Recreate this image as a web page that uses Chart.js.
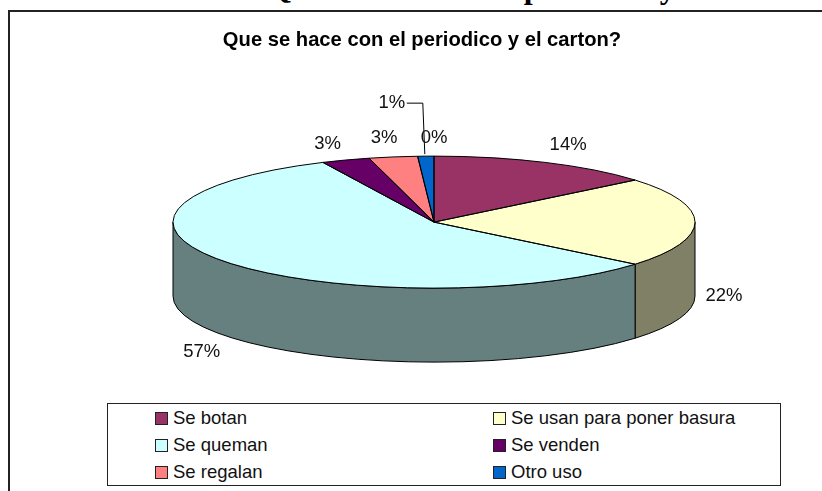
<!DOCTYPE html>
<html>
<head>
<meta charset="utf-8">
<style>
  html, body { margin: 0; padding: 0; background: #fff; width: 822px; height: 491px; overflow: hidden; }
  #page-title { position: absolute; left: 267px; top: -31px; font: bold 32px "Liberation Serif", serif; white-space: nowrap; color: #000; }
  #frame { position: absolute; left: 8px; top: 10px; width: 830px; height: 500px; border: 2px solid #222; }
  #chart-canvas { position: absolute; left: 0; top: 0; }
  #legend-box { position: absolute; left: 107px; top: 403px; width: 672px; height: 81px; border: 1px solid #222; background: #fff; }
  .legend-item { position: absolute; height: 18px; display: flex; align-items: center; font: 18.5px "Liberation Sans", sans-serif; color: #111; white-space: nowrap; }
  .legend-item i { display: block; width: 11px; height: 11px; border: 1px solid #222; margin-right: 5px; }
</style>
<script src="https://cdn.jsdelivr.net/npm/chart.js@4/dist/chart.umd.min.js"></script>
</head>
<body>
<div id="page-title">Que se hace con el periodico y el carton?</div>
<div id="frame"></div>
<canvas id="chart-canvas" width="822" height="491"></canvas>
<div id="legend-box"></div>
<script>
var categories = ['Se botan', 'Se usan para poner basura', 'Se queman', 'Se venden', 'Se regalan', 'Otro uso', ''];
var values = [14, 22, 57, 3, 3, 1, 0];
var topColors = ['#993366', '#FFFFCC', '#CCFFFF', '#660066', '#FF8080', '#0066CC', '#CCCCFF'];
var wallColors = ['#4d1a33', '#808066', '#668080', '#330033', '#804040', '#003366', '#666680'];

// label offset from the rim of the ellipse, per slice
var labelOffsets = [[23, -17], [29, 0], [-26, 15], [-18, -16], [-9, -19], [-34, -53], [0, -18]];

var squash = 66 / 261;
var depth = 74;

// Pie drawn flat by the library, then squashed, with a wall under it
var pie3d = {
  id: 'pie3d',
  afterLayout: function(chart) {
    // the title is centred on the frame, not on the pie
    chart.titleBlock.left -= 12;
    chart.titleBlock.right -= 12;
  },
  beforeDatasetDraw: function(chart, args) {
    var ctx = chart.ctx;
    var arcs = args.meta.data;
    var cx = arcs[0].x, cy = arcs[0].y, r = arcs[0].outerRadius;
    var ry = r * squash;

    // side wall, only the front half can be seen
    ctx.save();
    ctx.strokeStyle = '#000';
    ctx.lineWidth = 1;
    arcs.forEach(function(arc, i) {
      var a0 = Math.max(arc.startAngle, 0);
      var a1 = Math.min(arc.endAngle, Math.PI);
      if (a1 <= a0) return;
      ctx.beginPath();
      ctx.ellipse(cx, cy, r, ry, 0, a0, a1);
      ctx.ellipse(cx, cy + depth, r, ry, 0, a1, a0, true);
      ctx.closePath();
      ctx.fillStyle = wallColors[i];
      ctx.fill();
      ctx.stroke();
    });
    ctx.restore();

    ctx.save();
    ctx.translate(cx, cy);
    ctx.scale(1, squash);
    ctx.translate(-cx, -cy);
  },
  afterDatasetDraw: function(chart, args) {
    var ctx = chart.ctx;
    ctx.restore();
    var arcs = args.meta.data;
    var cx = arcs[0].x, cy = arcs[0].y, r = arcs[0].outerRadius;
    var ry = r * squash;

    // outlines, out of the transform so the pen stays round
    ctx.save();
    ctx.strokeStyle = '#000';
    ctx.lineWidth = 1;
    arcs.forEach(function(arc) {
      if (arc.endAngle - arc.startAngle <= 0) return;
      ctx.beginPath();
      ctx.moveTo(cx, cy);
      ctx.ellipse(cx, cy, r, ry, 0, arc.startAngle, arc.endAngle);
      ctx.closePath();
      ctx.stroke();
    });

    // percent labels
    ctx.font = '18.5px "Liberation Sans", sans-serif';
    ctx.fillStyle = '#111';
    ctx.textAlign = 'center';
    ctx.textBaseline = 'middle';
    var total = values.reduce(function(a, b) { return a + b; }, 0);
    arcs.forEach(function(arc, i) {
      var mid = (arc.startAngle + arc.endAngle) / 2;
      var x = cx + r * Math.cos(mid);
      var y = cy + ry * Math.sin(mid);
      if (Math.sin(mid) > -0.1) y += depth;
      var lx = x + labelOffsets[i][0];
      var ly = y + labelOffsets[i][1];
      ctx.fillText(Math.round(values[i] / total * 100) + '%', lx, ly);
      // leader line for the small slice
      if (i === 5) {
        ctx.beginPath();
        ctx.moveTo(lx + 15, ly);
        ctx.lineTo(x - 3, ly);
        ctx.lineTo(x - 1, y - 2);
        ctx.stroke();
      }
    });
    ctx.restore();
  }
};

new Chart(document.getElementById('chart-canvas'), {
  type: 'pie',
  data: {
    labels: categories,
    datasets: [{
      data: values,
      backgroundColor: topColors,
      borderWidth: 0,
      radius: 261,
      clip: false
    }]
  },
  plugins: [pie3d],
  options: {
    responsive: false,
    animation: false,
    // puts the pie centre at about (434, 222)
    layout: { padding: { left: 46, right: 0, top: 0, bottom: 99 } },
    plugins: {
      legend: { display: false },
      tooltip: { enabled: false },
      title: {
        display: true,
        text: 'Que se hace con el periodico y el carton?',
        color: '#000',
        font: { family: '"Liberation Sans", sans-serif', size: 20.2, weight: 'bold' },
        padding: { top: 28, bottom: 0 }
      }
    }
  }
});

// HTML legend, two columns, built from the same arrays
var legendBox = document.getElementById('legend-box');
categories.forEach(function(name, i) {
  if (!name) return;
  var item = document.createElement('div');
  item.className = 'legend-item';
  item.style.left = (i % 2 ? 385 : 47) + 'px';
  item.style.top = (Math.floor(i / 2) * 27 + 5) + 'px';
  item.innerHTML = '<i style="background:' + topColors[i] + '"></i>' + name;
  legendBox.appendChild(item);
});
</script>
</body>
</html>
